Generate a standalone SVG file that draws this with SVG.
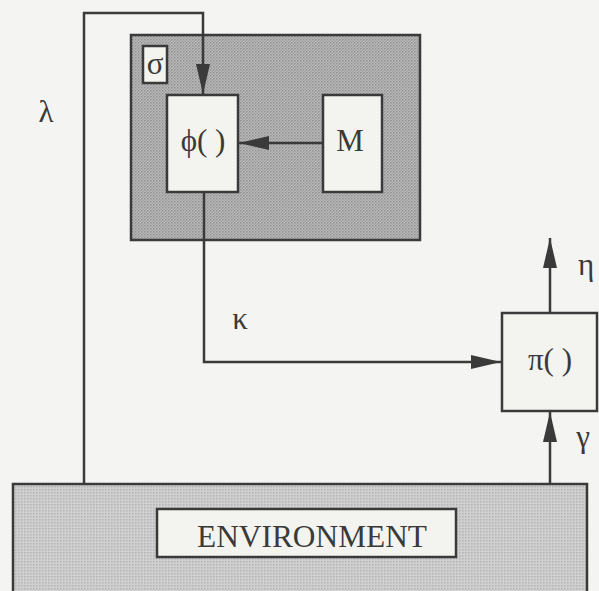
<svg xmlns="http://www.w3.org/2000/svg" width="599" height="591" viewBox="0 0 599 591">
<style>
.ln{fill:none;stroke:#3a3a3a;stroke-width:2.5}
.box{fill:#f3f3ef;stroke:#3a3a3a;stroke-width:2.5}
.t{font-family:"Liberation Serif","Times New Roman",serif;fill:#3a3a3a;font-size:31px}
</style>
<defs>
<pattern id="dk" width="3" height="3" patternUnits="userSpaceOnUse">
<rect width="3" height="3" fill="#bcbcbc"/>
<rect width="1.5" height="1.5" fill="#8e8e8e"/>
<rect x="1.5" y="1.5" width="1.5" height="1.5" fill="#a0a0a0"/>
</pattern>
<pattern id="lt" width="3" height="3" patternUnits="userSpaceOnUse">
<rect width="3" height="3" fill="#d0d0d0"/>
<rect width="1.5" height="1.5" fill="#b3b3b3"/>
</pattern>
<marker id="ah" viewBox="0 0 30 14" refX="30" refY="7" markerWidth="30" markerHeight="14" markerUnits="userSpaceOnUse" orient="auto">
<path d="M0,0 L30,7 L0,14 Z" fill="#3a3a3a"/>
</marker>
</defs>
<rect width="599" height="591" fill="#f4f4f2"/>
<g id="agent">
<rect x="131" y="35" width="289" height="205" fill="url(#dk)" stroke="#3a3a3a" stroke-width="2.5"/>
</g>
<g id="sigma">
<rect class="box" x="143" y="46" width="24" height="37"/>
<text class="t" x="155" y="74" text-anchor="middle">σ</text>
</g>
<g id="phi">
<rect class="box" x="167" y="95" width="71" height="97"/>
<text class="t" x="203" y="151" text-anchor="middle">ϕ( )</text>
</g>
<g id="M">
<rect class="box" x="323" y="95" width="59" height="97"/>
<text class="t" x="350" y="151" text-anchor="middle" font-size="29">M</text>
</g>
<g id="pi">
<rect class="box" x="502" y="313" width="95" height="98"/>
<text class="t" x="550" y="370" text-anchor="middle">π( )</text>
</g>
<g id="environment">
<rect x="13" y="484" width="574" height="120" fill="url(#lt)" stroke="#3a3a3a" stroke-width="2.5"/>
<rect class="box" x="157" y="509" width="299" height="48"/>
<text class="t" x="312" y="547" text-anchor="middle" font-size="33" textLength="230" lengthAdjust="spacingAndGlyphs">ENVIRONMENT</text>
</g>
<g id="connectors">
<path class="ln" d="M84,484 V13 H203 V94" marker-end="url(#ah)"/>
<path class="ln" d="M323,143 H239" marker-end="url(#ah)"/>
<path class="ln" d="M204,192 V362 H501" marker-end="url(#ah)"/>
<path class="ln" d="M550,313 V238" marker-end="url(#ah)"/>
<path class="ln" d="M550,484 V412" marker-end="url(#ah)"/>
<text class="t" x="46" y="122" text-anchor="middle" font-size="32">λ</text>
<text class="t" x="240" y="329" text-anchor="middle" font-size="32">κ</text>
<text class="t" x="586" y="275" text-anchor="middle" font-size="32">η</text>
<text class="t" x="583" y="447" text-anchor="middle" font-size="32">γ</text>
</g>
</svg>
